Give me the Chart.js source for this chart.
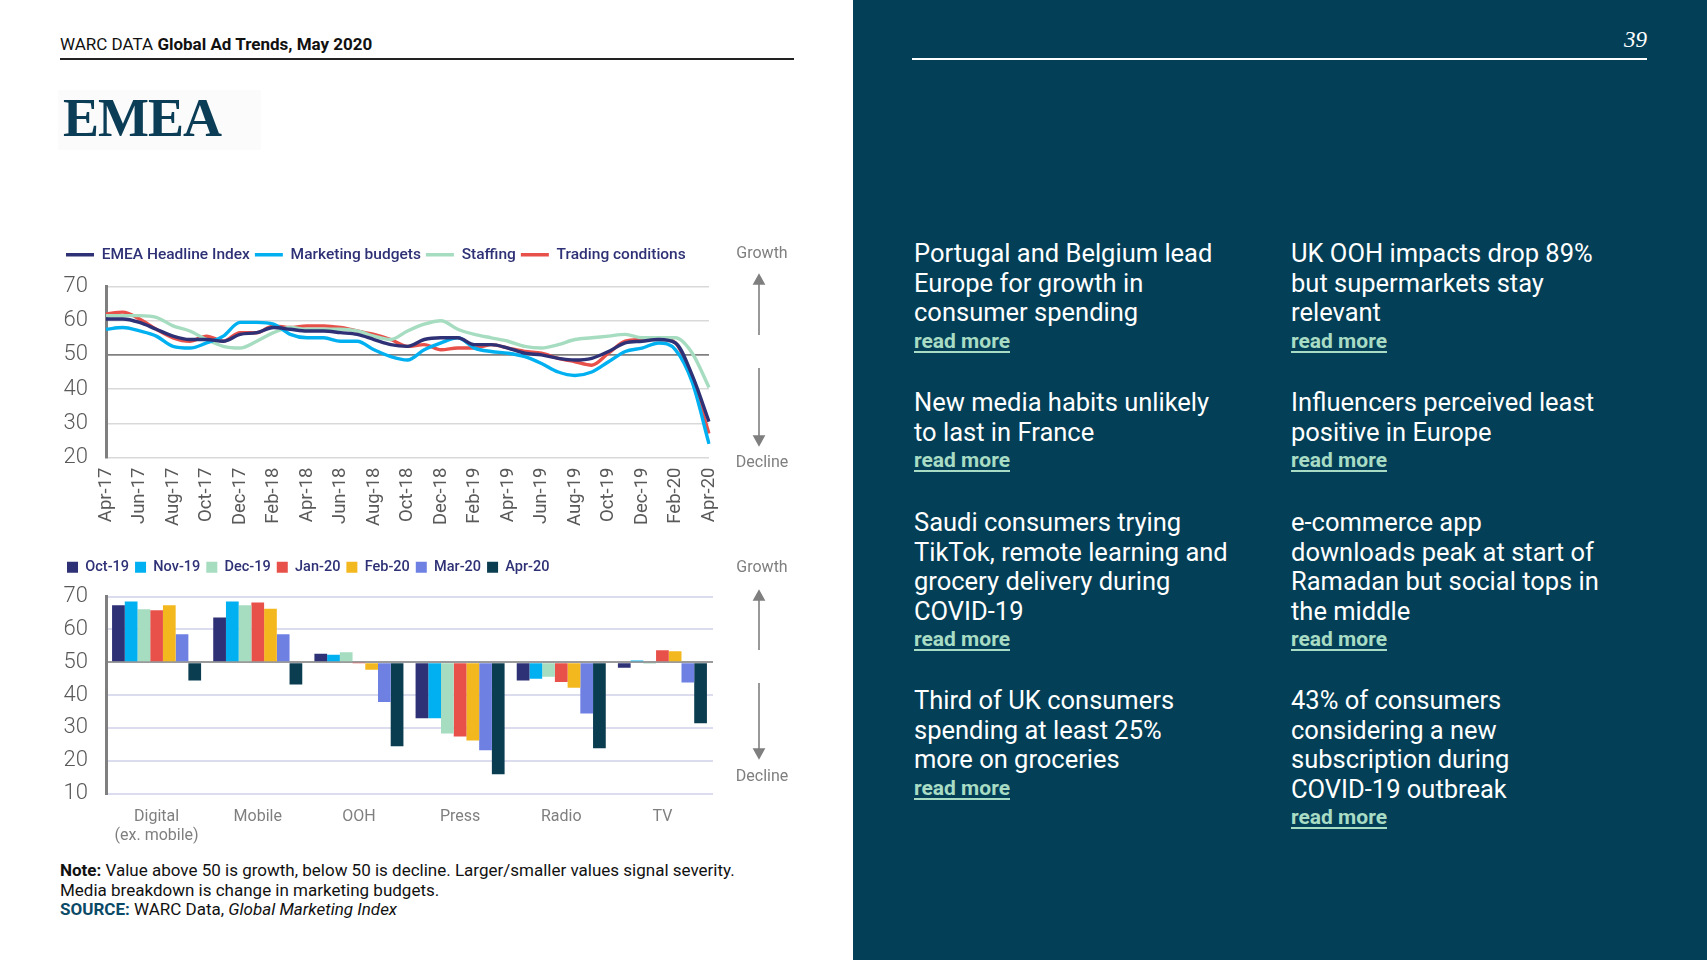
<!DOCTYPE html>
<html>
<head>
<meta charset="utf-8">
<script src="https://cdn.jsdelivr.net/npm/chart.js@4.4.0/dist/chart.umd.min.js"></script>
<style>
  html, body { margin: 0; padding: 0; }
  body { width: 1707px; height: 960px; position: relative; background: #fff; font-family: Roboto, "Liberation Sans", sans-serif; overflow: hidden; }
  .abs { position: absolute; }
  #header { left: 60px; top: 34px; font-size: 17px; color: #111; }
  #header b { font-weight: 700; }
  #rule1 { left: 60px; top: 58px; width: 734px; height: 1.5px; background: #222; }
  #logo { left: 58px; top: 90px; width: 203px; height: 60px; background: #fbfbfb; }
  #logo span { position: absolute; left: 5px; top: -3px; font-family: "Liberation Serif", "DejaVu Serif", serif; font-weight: 700; font-size: 54px; color: #0b3d56; letter-spacing: -1px; }
  .side { font-size: 16px; color: #7f7f7f; width: 80px; text-align: center; }
  #note { left: 60px; top: 861px; font-size: 17px; line-height: 19.6px; color: #111; }
  #note .src { color: #0b4a66; font-weight: 700; }
  #panel { left: 853px; top: 0; width: 854px; height: 960px; background: #033f57; }
  #pageno { right: 60px; top: 27px; font-family: "Liberation Serif", serif; font-size: 23px; color: #fff; }
  #rule2 { left: 59px; top: 58px; width: 735px; height: 1.5px; background: #fff; }
  .story { color: #fff; font-size: 25.5px; line-height: 29.5px; width: 370px; }
  .story a { display: block; color: #a8dcc4; font-size: 21px; font-weight: 700; text-decoration: underline; text-underline-offset: 3px; line-height: 27px; }
</style>
</head>
<body>
<div id="header" class="abs">WARC DATA <b>Global Ad Trends, May 2020</b></div>
<div id="rule1" class="abs"></div>
<div id="logo" class="abs"><span>EMEA</span></div>

<div class="abs" style="left:50px; top:242px; width:700px; height:286px;"><canvas id="lineChart"></canvas></div>
<div class="abs" style="left:50px; top:554px; width:680px; height:298px;"><canvas id="barChart"></canvas></div>

<div class="abs side" style="left:722px; top:243px;">Growth</div>
<div class="abs side" style="left:722px; top:452px;">Decline</div>
<div class="abs side" style="left:722px; top:557px;">Growth</div>
<div class="abs side" style="left:722px; top:766px;">Decline</div>
<svg class="abs" style="left:740px; top:260px;" width="40" height="520">
  <g stroke="#7f7f7f" stroke-width="1.6" fill="#7f7f7f">
    <line x1="19" y1="22" x2="19" y2="75"/><polygon points="14,24 24,24 19,15"/>
    <line x1="19" y1="108" x2="19" y2="178"/><polygon points="14,176 24,176 19,185"/>
    <line x1="19" y1="338" x2="19" y2="390"/><polygon points="14,340 24,340 19,331"/>
    <line x1="19" y1="423" x2="19" y2="491"/><polygon points="14,489 24,489 19,498"/>
  </g>
</svg>

<div id="note" class="abs"><b>Note:</b> Value above 50 is growth, below 50 is decline. Larger/smaller values signal severity.<br>Media breakdown is change in marketing budgets.<br><span class="src">SOURCE:</span> WARC Data, <i>Global Marketing Index</i></div>

<div id="panel" class="abs">
  <div id="pageno" class="abs"><i>39</i></div>
  <div id="rule2" class="abs"></div>
  <div class="abs story" style="left:61px; top:239px;">Portugal and Belgium lead<br>Europe for growth in<br>consumer spending<a>read more</a></div>
  <div class="abs story" style="left:438px; top:239px;">UK OOH impacts drop 89%<br>but supermarkets stay<br>relevant<a>read more</a></div>
  <div class="abs story" style="left:61px; top:388px;">New media habits unlikely<br>to last in France<a>read more</a></div>
  <div class="abs story" style="left:438px; top:388px;">Influencers perceived least<br>positive in Europe<a>read more</a></div>
  <div class="abs story" style="left:61px; top:508px;">Saudi consumers trying<br>TikTok, remote learning and<br>grocery delivery during<br>COVID-19<a>read more</a></div>
  <div class="abs story" style="left:438px; top:508px;">e-commerce app<br>downloads peak at start of<br>Ramadan but social tops in<br>the middle<a>read more</a></div>
  <div class="abs story" style="left:61px; top:686px;">Third of UK consumers<br>spending at least 25%<br>more on groceries<a>read more</a></div>
  <div class="abs story" style="left:438px; top:686px;">43% of consumers<br>considering a new<br>subscription during<br>COVID-19 outbreak<a>read more</a></div>
</div>

<script>
// monthly index, Apr-17 .. Apr-20
const months = ['Apr-17','May-17','Jun-17','Jul-17','Aug-17','Sep-17','Oct-17','Nov-17','Dec-17',
  'Jan-18','Feb-18','Mar-18','Apr-18','May-18','Jun-18','Jul-18','Aug-18','Sep-18','Oct-18','Nov-18','Dec-18',
  'Jan-19','Feb-19','Mar-19','Apr-19','May-19','Jun-19','Jul-19','Aug-19','Sep-19','Oct-19','Nov-19','Dec-19',
  'Jan-20','Feb-20','Mar-20','Apr-20'];
const headline = [60.5,60.5,59.5,57.5,55.5,54.5,54.5,54,56,56.5,58,57.5,57,57,56.5,56,54.5,53,52.5,54.5,55,
  55,53,53,52,50.5,50,49,48.5,49,51,53.5,54,54.5,53.5,44,30.5];
const marketing = [57.5,58,57,55.5,52.5,52,53.5,55.5,59.5,59.5,59,56,55,55,54,54,51.5,49.5,48.5,51.5,53.5,
  55,52,51,50.5,49.5,47.5,45,44,45,48,51,52,53.5,51.5,42,24];
const staffing = [61.5,61.5,61.5,61,58.5,57,54.5,52.5,52,54,56.5,58,57.5,57.5,57.5,57,55.5,54.5,57,59,60,
  57.5,56,55,54,52.5,52,53,54.5,55,55.5,56,55,55,55,50.5,40.5];
const trading = [62,62.5,60.5,57.5,55,54,55.5,54,56.5,56.5,58.5,58,58.5,58.5,58,57,56,54.5,52.5,53,51.5,
  52,52,53,52,51,50.5,49,48,47,50.5,54,54.5,55,53.5,43,27];

// media breakdown (marketing budgets)
const media = [['Digital','(ex. mobile)'],'Mobile','OOH','Press','Radio','TV'];
const oct19 = [67.3,63.6,52.6,32.9,44.4,48.3];
const nov19 = [68.5,68.5,52.3,32.9,45.0,50.5];
const dec19 = [66.1,67.3,53.0,28.3,45.6,49.5];
const jan20 = [65.8,68.2,49.8,27.4,44.0,53.6];
const feb20 = [67.3,66.3,47.7,26.2,42.2,53.3];
const mar20 = [58.5,58.5,37.9,23.2,34.4,43.8];
const apr20 = [44.4,43.2,24.4,15.9,23.8,31.4];

const font = 'Roboto';
const legendColor = '#2e3175';

// extra space under the legend
const legendGap = {
  id: 'legendGap',
  beforeInit(chart, args, opts) {
    const fit = chart.legend.fit;
    chart.legend.fit = function () {
      fit.bind(chart.legend)();
      this.height += opts.gap || 0;
    };
  }
};

const lineSeries = [
  { label: 'EMEA Headline Index', data: headline, color: '#2e3175' },
  { label: 'Marketing budgets', data: marketing, color: '#00b0f0' },
  { label: 'Staffing', data: staffing, color: '#a6dcc0' },
  { label: 'Trading conditions', data: trading, color: '#e8504a' }
];

new Chart(document.getElementById('lineChart'), {
  type: 'line',
  plugins: [legendGap],
  data: {
    labels: months,
    datasets: lineSeries.map(s => ({
      label: s.label,
      data: s.data,
      borderColor: s.color,
      backgroundColor: s.color,
      borderWidth: 3.4,
      pointRadius: 0,
      tension: 0.4,
      cubicInterpolationMode: 'monotone'
    }))
  },
  options: {
    responsive: true,
    maintainAspectRatio: false,
    animation: false,
    layout: { padding: { left: 11, right: 41, top: 0, bottom: 0 } },
    plugins: {
      tooltip: { enabled: false },
      legendGap: { gap: 14 },
      legend: {
        align: 'start',
        labels: {
          usePointStyle: true,
          pointStyle: 'line',
          pointStyleWidth: 28,
          padding: 5,
          color: legendColor,
          font: { family: font, size: 15.5, weight: '500' }
        }
      }
    },
    scales: {
      x: {
        grid: { display: false },
        border: { display: false },
        ticks: {
          autoSkip: false,
          minRotation: 90,
          maxRotation: 90,
          padding: 2,
          color: '#595959',
          font: { family: font, size: 18.5 },
          callback: (v, i) => (i % 2 === 0 ? months[i] : '')
        }
      },
      y: {
        min: 20,
        max: 70,
        afterFit: (axis) => { axis.width = 45; },
        ticks: { stepSize: 10, padding: 18, color: '#595959', font: { family: font, size: 22, weight: '300' } },
        grid: {
          drawTicks: false,
          color: (c) => (c.tick.value === 50 ? '#808080' : '#d9d9d9'),
          lineWidth: (c) => (c.tick.value === 50 ? 1.8 : 1.5)
        },
        border: { color: '#7f7f7f', width: 3 }
      }
    }
  }
});

const barSeries = [
  { label: 'Oct-19', data: oct19, color: '#2e3175' },
  { label: 'Nov-19', data: nov19, color: '#00b0f0' },
  { label: 'Dec-19', data: dec19, color: '#a6dcc0' },
  { label: 'Jan-20', data: jan20, color: '#e8504a' },
  { label: 'Feb-20', data: feb20, color: '#f4b81f' },
  { label: 'Mar-20', data: mar20, color: '#6f80e3' },
  { label: 'Apr-20', data: apr20, color: '#0b3d50' }
];

new Chart(document.getElementById('barChart'), {
  type: 'bar',
  plugins: [legendGap],
  data: {
    labels: media,
    datasets: barSeries.map(s => ({
      label: s.label,
      data: s.data,
      base: 50,
      backgroundColor: s.color,
      borderWidth: 0
    }))
  },
  options: {
    responsive: true,
    maintainAspectRatio: false,
    animation: false,
    layout: { padding: { left: 11, right: 17, top: 0, bottom: 0 } },
    datasets: { bar: { categoryPercentage: 0.88, barPercentage: 1.0 } },
    plugins: {
      tooltip: { enabled: false },
      legendGap: { gap: 12 },
      legend: {
        align: 'start',
        labels: {
          boxWidth: 11,
          boxHeight: 11,
          padding: 6,
          color: legendColor,
          font: { family: font, size: 14.5, weight: '500' }
        }
      }
    },
    scales: {
      x: {
        grid: { display: false },
        border: { display: false },
        ticks: { padding: 6, color: '#7f7f7f', font: { family: font, size: 16 } }
      },
      y: {
        min: 10,
        max: 70,
        afterFit: (axis) => { axis.width = 45; },
        ticks: { stepSize: 10, padding: 18, color: '#595959', font: { family: font, size: 22, weight: '300' } },
        grid: {
          drawTicks: false,
          color: (c) => (c.tick.value === 50 ? '#9a9a9a' : '#dcdcef'),
          lineWidth: 2
        },
        border: { color: '#7f7f7f', width: 3 }
      }
    }
  }
});
</script>
</body>
</html>
